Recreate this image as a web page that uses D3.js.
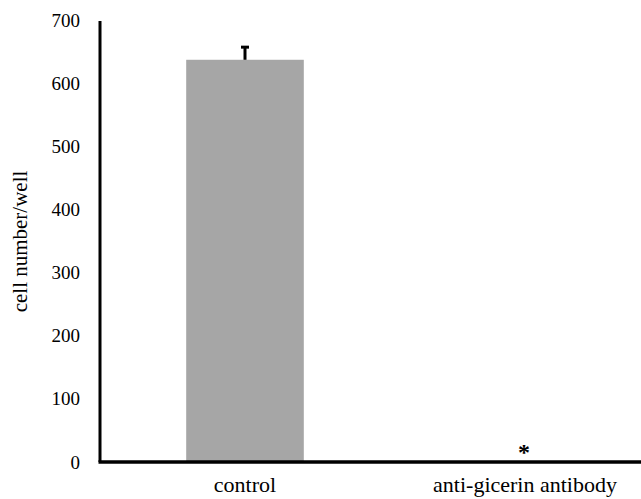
<!DOCTYPE html>
<html>
<head>
<meta charset="utf-8">
<script src="https://cdn.jsdelivr.net/npm/d3@7"></script>
<style>
  body { margin: 0; background: #fff; }
  svg text { font-family: "Liberation Serif", "Times New Roman", Times, "DejaVu Serif", serif !important; }
</style>
</head>
<body>
<script>
const categories = ["control", "anti-gicerin antibody"];
const cellCounts = [637, 0];
const errors = [20, 0];
const yTicks = [0, 100, 200, 300, 400, 500, 600, 700];

const WIDTH = 641, HEIGHT = 499;
const margin = { left: 100, top: 21 };

const svg = d3.select("body").append("svg")
    .attr("width", WIDTH)
    .attr("height", HEIGHT);

const x = d3.scaleBand()
    .domain(categories)
    .range([105, 665])
    .paddingInner(0.58)
    .paddingOuter(0.29);

const y = d3.scaleLinear()
    .domain([0, 700])
    .range([462, 20]);

// bars
svg.selectAll("rect.bar")
    .data(categories)
    .enter()
    .append("rect")
    .attr("class", "bar")
    .attr("x", (d) => x(d))
    .attr("width", x.bandwidth())
    .attr("y", (d, i) => y(cellCounts[i]))
    .attr("height", (d, i) => y(0) - y(cellCounts[i]))
    .attr("fill", "#a6a6a6");

// error bars (upper only)
categories.forEach((c, i) => {
    if (!errors[i]) return;
    const cx = x(c) + x.bandwidth() / 2;
    svg.append("line")
        .attr("x1", cx).attr("x2", cx)
        .attr("y1", y(cellCounts[i])).attr("y2", y(cellCounts[i] + errors[i]))
        .attr("stroke", "#000").attr("stroke-width", 3);
    svg.append("line")
        .attr("x1", cx - 4).attr("x2", cx + 4)
        .attr("y1", y(cellCounts[i] + errors[i])).attr("y2", y(cellCounts[i] + errors[i]))
        .attr("stroke", "#000").attr("stroke-width", 3);
});

// significance mark
svg.append("text")
    .attr("x", x(categories[1]) + x.bandwidth() / 2 - 1)
    .attr("y", y(0) - 2)
    .attr("text-anchor", "middle")
    .attr("font-size", 24)
    .attr("font-weight", "bold")
    .text("*");

// y axis
const yAxis = svg.append("g")
    .attr("transform", `translate(${margin.left},0)`)
    .call(d3.axisLeft(y).tickValues(yTicks).tickSize(0).tickPadding(20));
yAxis.select(".domain").remove();
yAxis.selectAll("text")
    .attr("font-size", 19)
    .attr("fill", "#000");

svg.append("line")
    .attr("x1", margin.left).attr("x2", margin.left)
    .attr("y1", margin.top).attr("y2", y(0))
    .attr("stroke", "#000").attr("stroke-width", 3);

// x axis
const xAxis = svg.append("g")
    .attr("transform", `translate(0,${y(0)})`)
    .call(d3.axisBottom(x).tickSize(0).tickPadding(14));
xAxis.select(".domain").remove();
xAxis.selectAll("text")
    .attr("font-size", 22)
    .attr("fill", "#000");

svg.append("line")
    .attr("x1", margin.left - 1.5).attr("x2", WIDTH)
    .attr("y1", y(0)).attr("y2", y(0))
    .attr("stroke", "#000").attr("stroke-width", 3.5);

// y axis title
svg.append("text")
    .attr("transform", `translate(27,${(margin.top + y(0)) / 2}) rotate(-90)`)
    .attr("text-anchor", "middle")
    .attr("font-size", 21)
    .text("cell number/well");
</script>
</body>
</html>
